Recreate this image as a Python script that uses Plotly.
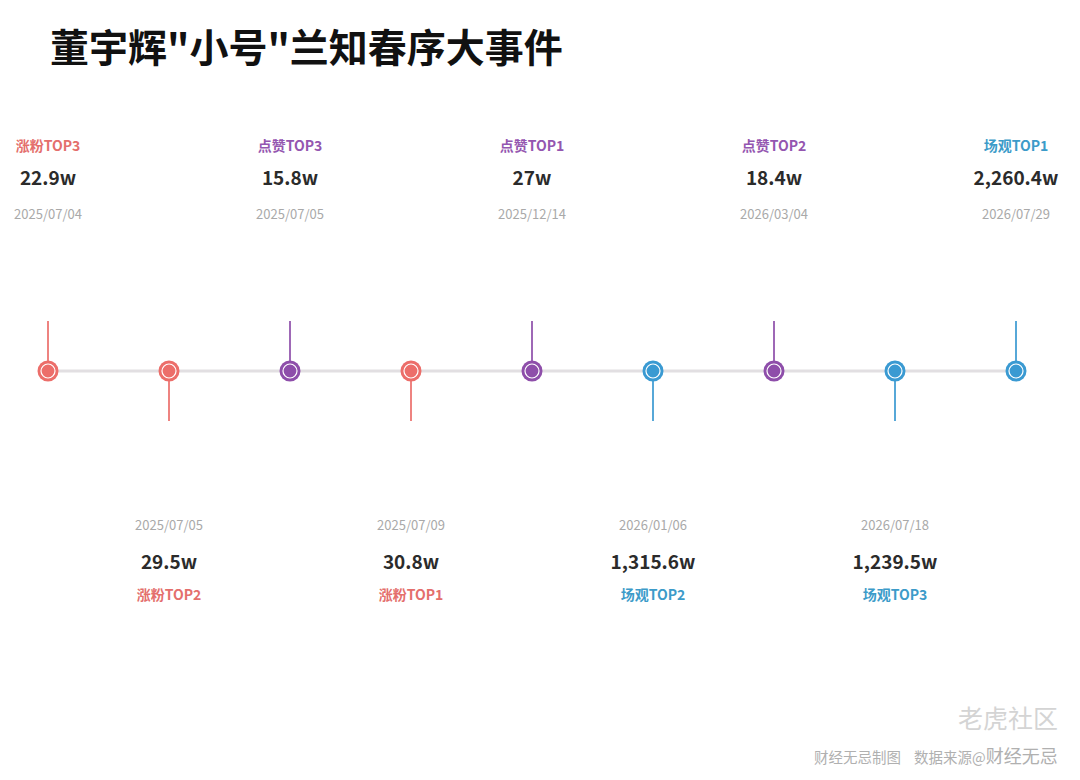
import plotly.graph_objects as go

# 董宇辉"小号"兰知春序大事件
dates = ["2025/07/04", "2025/07/05", "2025/07/05", "2025/07/09", "2025/12/14",
         "2026/01/06", "2026/03/04", "2026/07/18", "2026/07/29"]
values = [22.9, 29.5, 15.8, 30.8, 27, 1315.6, 18.4, 1239.5, 2260.4]
labels = ["涨粉TOP3", "涨粉TOP2", "点赞TOP3", "涨粉TOP1", "点赞TOP1",
          "场观TOP2", "点赞TOP2", "场观TOP3", "场观TOP1"]
sides = [1, -1, 1, -1, 1, -1, 1, -1, 1]  # 1 = above the line, -1 = below

colors = {"涨粉": "#ec6e6a", "点赞": "#8e4eaa", "场观": "#3a9ad2"}
text_colors = {"涨粉": "#e46f6c", "点赞": "#9456b0", "场观": "#3c9bc9"}

FONT = "Noto Sans CJK SC"
W, H = 1072, 772  # page body keeps an 8px margin, so the figure sits at (8, 8)
OFF = 8


def px(x):
    return (x - OFF) / W


def py(y):
    return 1 - (y - OFF) / H


xs = list(range(len(dates)))
cols = [colors[l[:2]] for l in labels]
tcols = [text_colors[l[:2]] for l in labels]

fig = go.Figure()

# timeline
fig.add_trace(go.Scatter(x=[xs[0], xs[-1]], y=[0, 0], mode="lines",
                         line=dict(color="#e2dfe2", width=3), hoverinfo="skip"))

# stems
for x, s, c in zip(xs, sides, cols):
    fig.add_trace(go.Scatter(x=[x, x], y=[0, s], mode="lines",
                             line=dict(color=c, width=2), opacity=0.85, hoverinfo="skip"))

# dots
fig.add_trace(go.Scatter(x=xs, y=[0] * len(xs), mode="markers",
                         marker=dict(size=21, color=cols, line=dict(width=0)), hoverinfo="skip"))
fig.add_trace(go.Scatter(x=xs, y=[0] * len(xs), mode="markers",
                         marker=dict(size=14, color=cols, line=dict(width=1.2, color="white")),
                         hoverinfo="skip"))

# text rows (top: label / value / date, bottom: date / value / label)
label_y = [4.48 if s > 0 else -4.50 for s in sides]
value_y = [3.82 if s > 0 else -3.86 for s in sides]
date_y = [3.10 if s > 0 else -3.12 for s in sides]

fig.add_trace(go.Scatter(x=xs, y=label_y, mode="text", text=labels,
                         textfont=dict(family=FONT, size=14, color=tcols, weight="bold"),
                         hoverinfo="skip"))
fig.add_trace(go.Scatter(x=xs, y=value_y, mode="text",
                         text=[f"{v:,g}w" for v in values],
                         textfont=dict(family=FONT, size=19, color="#2b2b2b", weight="bold"),
                         hoverinfo="skip"))
fig.add_trace(go.Scatter(x=xs, y=date_y, mode="text", text=dates,
                         textfont=dict(family=FONT, size=13, color="#a9a9a9"),
                         hoverinfo="skip"))

fig.update_layout(
    width=W, height=H,
    margin=dict(l=0, r=0, t=0, b=0),
    paper_bgcolor="white", plot_bgcolor="white",
    showlegend=False,
    xaxis=dict(range=[-(48 - OFF) / 121, (W + OFF - 48) / 121], visible=False, fixedrange=True),
    yaxis=dict(range=[-(H + OFF - 371) / 50, (371 - OFF) / 50], visible=False, fixedrange=True),
    annotations=[
        dict(text='董宇辉"小号"兰知春序大事件', xref="paper", yref="paper",
             x=px(48), y=py(45), xanchor="left", yanchor="middle", showarrow=False,
             font=dict(family=FONT, size=39, color="#111111", weight="bold")),
        dict(text="老虎社区", xref="paper", yref="paper",
             x=px(1060), y=py(717), xanchor="right", yanchor="middle", showarrow=False,
             font=dict(family=FONT, size=25, color="#d4d4d4")),
        dict(text="财经无忌制图    数据来源@<span style='font-size:18px'>财经无忌</span>",
             xref="paper", yref="paper",
             x=px(1060), y=py(755), xanchor="right", yanchor="middle", showarrow=False,
             font=dict(family=FONT, size=14.5, color="#b0b0b0")),
    ],
)

fig.write_html("out.html")
